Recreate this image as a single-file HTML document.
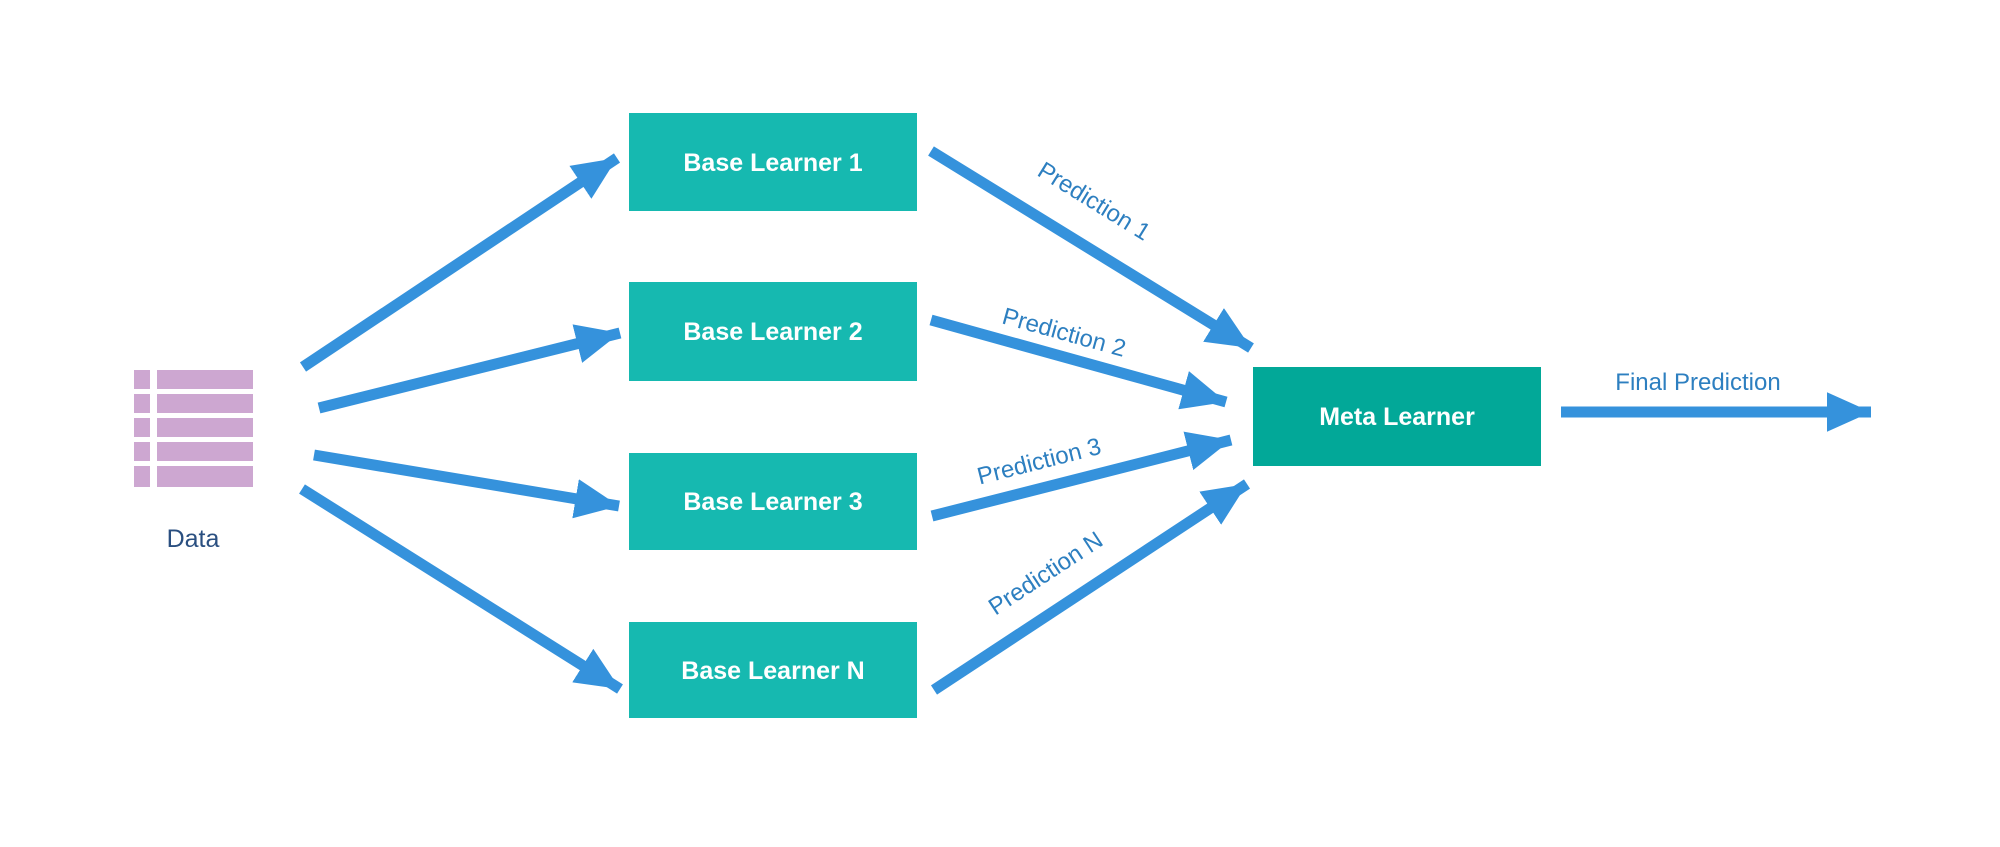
<!DOCTYPE html>
<html><head><meta charset="utf-8"><style>
html,body{margin:0;padding:0;background:#fff;}
svg{display:block;}
text{font-family:"Liberation Sans",sans-serif;}
</style></head><body>
<svg width="2000" height="847" viewBox="0 0 2000 847" xmlns="http://www.w3.org/2000/svg">
<defs>
<marker id="ah" markerWidth="4" markerHeight="3.6" refX="4" refY="1.8" orient="auto" markerUnits="strokeWidth">
<path d="M0,0 L4,1.8 L0,3.6 Z" fill="#3592dc"/>
</marker>
</defs>
<!-- Data icon -->
<g fill="#cda7d1">
<rect x="134" y="370" width="16" height="19"/><rect x="157" y="370" width="96" height="19"/>
<rect x="134" y="394" width="16" height="19"/><rect x="157" y="394" width="96" height="19"/>
<rect x="134" y="418" width="16" height="19"/><rect x="157" y="418" width="96" height="19"/>
<rect x="134" y="442" width="16" height="19"/><rect x="157" y="442" width="96" height="19"/>
<rect x="134" y="466" width="16" height="21"/><rect x="157" y="466" width="96" height="21"/>
</g>
<text x="193" y="547" font-size="25" fill="#2a4f80" text-anchor="middle">Data</text>
<!-- Base boxes -->
<g fill="#16b9b0">
<rect x="629" y="113" width="288" height="98"/>
<rect x="629" y="282" width="288" height="99"/>
<rect x="629" y="453" width="288" height="97"/>
<rect x="629" y="622" width="288" height="96"/>
</g>
<rect x="1253" y="367" width="288" height="99" fill="#02a898"/>
<g fill="#fff" font-size="25" font-weight="bold" text-anchor="middle">
<text x="773" y="171">Base Learner 1</text>
<text x="773" y="340">Base Learner 2</text>
<text x="773" y="510">Base Learner 3</text>
<text x="773" y="679">Base Learner N</text>
<text x="1397" y="425">Meta Learner</text>
</g>
<!-- arrows -->
<g stroke="#3592dc" stroke-width="11" fill="none" marker-end="url(#ah)">
<line x1="303" y1="367" x2="617" y2="158"/>
<line x1="319" y1="408" x2="620" y2="333"/>
<line x1="314" y1="455" x2="619" y2="506"/>
<line x1="302" y1="489" x2="620" y2="689"/>
<line x1="931" y1="151" x2="1251" y2="348"/>
<line x1="931" y1="320" x2="1226" y2="402"/>
<line x1="932" y1="516" x2="1231" y2="440"/>
<line x1="934" y1="690" x2="1247" y2="484"/>
<line x1="1561" y1="412" x2="1871" y2="412"/>
</g>
<g fill="#2d7fc0" font-size="24" text-anchor="middle">
<text transform="translate(1090,208) rotate(31.6)">Prediction 1</text>
<text transform="translate(1062,340) rotate(15.5)">Prediction 2</text>
<text transform="translate(1041,469) rotate(-14.3)">Prediction 3</text>
<text transform="translate(1050,580) rotate(-33.3)">Prediction N</text>
<text x="1698" y="390">Final Prediction</text>
</g>
</svg>
</body></html>
